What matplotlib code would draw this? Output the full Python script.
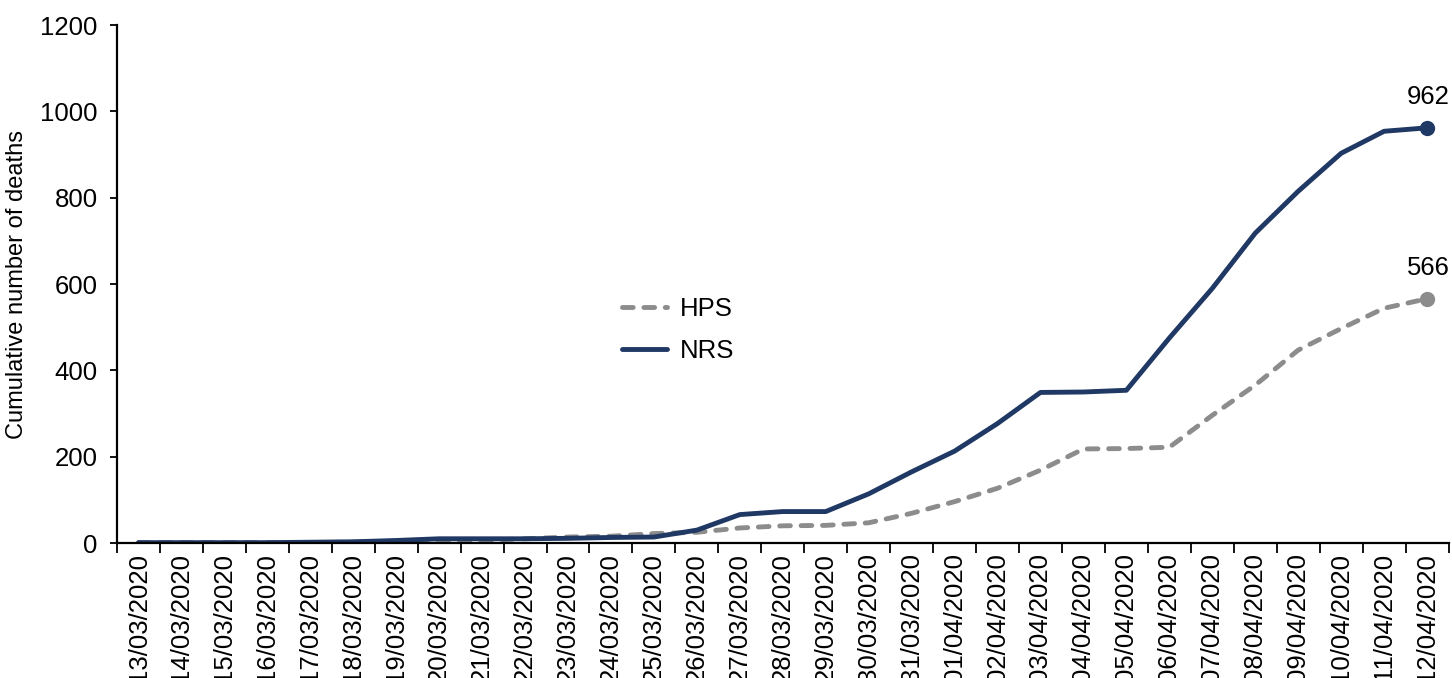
import numpy as np
import matplotlib
matplotlib.use("Agg")
import matplotlib.pyplot as plt
from matplotlib.ticker import FixedLocator

plt.rcParams['font.family'] = ['Liberation Sans', 'DejaVu Sans']

dates = ["13/03/2020", "14/03/2020", "15/03/2020", "16/03/2020", "17/03/2020",
         "18/03/2020", "19/03/2020", "20/03/2020", "21/03/2020", "22/03/2020",
         "23/03/2020", "24/03/2020", "25/03/2020", "26/03/2020", "27/03/2020",
         "28/03/2020", "29/03/2020", "30/03/2020", "31/03/2020", "01/04/2020",
         "02/04/2020", "03/04/2020", "04/04/2020", "05/04/2020", "06/04/2020",
         "07/04/2020", "08/04/2020", "09/04/2020", "10/04/2020", "11/04/2020",
         "12/04/2020"]
hps = [1, 1, 1, 1, 1, 2, 3, 6, 6, 10, 14, 16, 22, 25, 35, 40, 41, 47, 69, 96,
       127, 169, 218, 219, 222, 296, 366, 447, 497, 544, 566]
nrs = [1, 1, 1, 1, 2, 3, 6, 10, 10, 10, 11, 13, 14, 30, 66, 73, 73, 114, 165, 213,
       277, 349, 350, 354, 475, 590, 718, 815, 903, 954, 962]

navy = "#1F3864"
grey = "#8C8C8C"
FS = 18.5

fig = plt.figure(figsize=(14.52, 6.78), dpi=100)
ax = fig.add_axes([0.0806, 0.199, 0.917, 0.764])

x = np.arange(len(dates))
ax.plot(x, hps, color=grey, lw=3.5, ls=(0, (2.2, 2.2)), label="HPS",
        dash_capstyle='round')
ax.plot(x, nrs, color=navy, lw=3.5, label="NRS", solid_capstyle='round')
ax.plot(x[-1], hps[-1], 'o', color=grey, ms=10, zorder=5)
ax.plot(x[-1], nrs[-1], 'o', color=navy, ms=10, zorder=5)
ax.annotate(str(nrs[-1]), (x[-1], nrs[-1]), xytext=(1, 22), textcoords='offset points',
            ha='center', va='center', fontsize=FS)
ax.annotate(str(hps[-1]), (x[-1], hps[-1]), xytext=(1, 22), textcoords='offset points',
            ha='center', va='center', fontsize=FS)

ax.set_xlim(-0.5, len(dates) - 0.5)
ax.set_ylim(0, 1200)
ax.set_yticks(np.arange(0, 1201, 200))
ax.tick_params(axis='y', labelsize=FS, length=5, width=1.3, direction='out', pad=9)

ax.xaxis.set_major_locator(FixedLocator(np.arange(-0.5, len(dates), 1)))
ax.xaxis.set_minor_locator(FixedLocator(x))
ax.set_xticklabels([], minor=False)
ax.set_xticklabels(dates, minor=True, rotation=90, fontsize=FS)
ax.tick_params(axis='x', which='major', length=7, width=1.3, direction='out')
ax.tick_params(axis='x', which='minor', length=0, pad=7)

for s in ['top', 'right']:
    ax.spines[s].set_visible(False)
for s in ['left', 'bottom']:
    ax.spines[s].set_linewidth(1.6)
    ax.spines[s].set_color('black')

ax.set_ylabel("Cumulative number of deaths", fontsize=17, labelpad=9)

leg = ax.legend(loc='upper left', bbox_to_anchor=(0.379, 0.475), frameon=False,
                fontsize=FS, handlelength=1.75, handletextpad=0.5, labelspacing=0.68,
                borderpad=0, borderaxespad=0)

fig.savefig("out.png", dpi=100)
